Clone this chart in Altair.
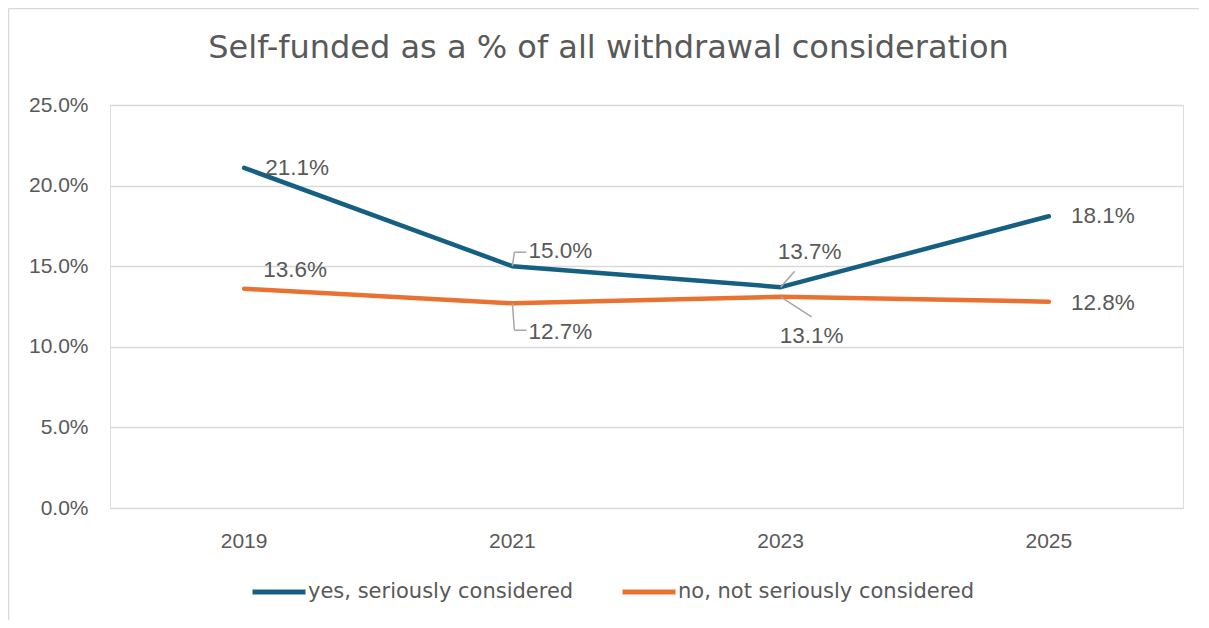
import altair as alt
import pandas as pd

years = ["2019", "2021", "2023", "2025"]
yes_vals = [21.1, 15.0, 13.7, 18.1]
no_vals = [13.6, 12.7, 13.1, 12.8]
series_names = ["yes, seriously considered", "no, not seriously considered"]
series_colors = ["#156082", "#E97132"]
y_ticks = [0.0, 0.05, 0.10, 0.15, 0.20, 0.25]
title_text = "Self-funded as a % of all withdrawal consideration"

rows = []
for s, vals in zip(series_names, [yes_vals, no_vals]):
    for yr, v in zip(years, vals):
        rows.append({"year": yr, "value": v / 100.0, "series": s})
df = pd.DataFrame(rows)

TXT = "#595959"
GRID = "#D9D9D9"
LEAD = "#A6A6A6"
FONT = "Liberation Sans"
WIDE_FONT = "DejaVu Sans"

W, H = 1073, 403
PL, PT, PR, PB = 102, 97, 16, 112

x_enc = alt.X("year:O", sort=years, title=None,
              axis=alt.Axis(labelAngle=0, domain=False, ticks=False, labelPadding=22,
                            labelFontSize=21, labelColor=TXT, labelFont=FONT))
y_enc = alt.Y("value:Q", title=None,
              scale=alt.Scale(domain=[0, 0.25], nice=False),
              axis=alt.Axis(values=y_ticks, format=".1%", domain=False, ticks=False,
                            labelPadding=22, labelFontSize=21, labelColor=TXT, labelFont=FONT,
                            gridColor=GRID, gridWidth=1.5))

base = alt.Chart(df)

lines = base.mark_line(strokeWidth=4.5, strokeCap="round", strokeJoin="round").encode(
    x=x_enc, y=y_enc,
    color=alt.Color("series:N", sort=series_names,
                    scale=alt.Scale(domain=series_names, range=series_colors),
                    legend=alt.Legend(orient="none", legendX=140, legendY=458,
                                      direction="horizontal", title=None,
                                      symbolType="stroke", symbolSize=2809,
                                      symbolStrokeWidth=5, labelFontSize=21,
                                      labelColor=TXT, labelFont=WIDE_FONT, labelLimit=500,
                                      columnPadding=38, labelOffset=0)),
    detail="series:N",
)

# label offsets (pixels) per (series index, year)
label_offsets = {
    (0, "2019"): (21, 0), (1, "2019"): (19, -19),
    (0, "2021"): (16, -15), (1, "2021"): (16, 29),
    (0, "2023"): (-3, -35), (1, "2023"): (-1, 39),
    (0, "2025"): (22, 0), (1, "2025"): (22, 1),
}

layers = [lines]
for (si, yr), (dx, dy) in label_offsets.items():
    s = series_names[si]
    layers.append(
        base.transform_filter((alt.datum.series == s) & (alt.datum.year == yr))
        .mark_text(align="left", baseline="middle", dx=dx, dy=dy, fontSize=22.5,
                   color=TXT, font=FONT)
        .encode(x=alt.X("year:O", sort=years), y=alt.Y("value:Q"),
                text=alt.Text("value:Q", format=".1%"))
    )

# leader lines: (series index, year, start offset, end offset)
leaders = [
    (0, "2021", (0, 0), (2, -14)), (0, "2021", (2, -14), (14, -14)),
    (1, "2021", (0, 0), (2, 27)), (1, "2021", (2, 27), (14, 27)),
    (0, "2023", (0, 0), (14, -16)),
    (1, "2023", (0, 0), (31, 20)),
]
for si, yr, (x1, y1), (x2, y2) in leaders:
    s = series_names[si]
    layers.append(
        base.transform_filter((alt.datum.series == s) & (alt.datum.year == yr))
        .mark_rule(color=LEAD, strokeWidth=1.5, xOffset=x1, yOffset=y1,
                   x2Offset=x2, y2Offset=y2)
        .encode(x=alt.X("year:O", sort=years), y=alt.Y("value:Q"),
                x2="year:O", y2="value:Q")
    )

# outer chart frame (top and left edges)
frame_df = pd.DataFrame({"k": [0]})
frame_top = alt.Chart(frame_df).mark_rule(color=GRID, strokeWidth=1.5).encode(
    x=alt.value(-PL + 0.5), x2=alt.value(W + PR), y=alt.value(-PT + 0.5))
frame_left = alt.Chart(frame_df).mark_rule(color=GRID, strokeWidth=1.5).encode(
    x=alt.value(-PL + 0.5), y=alt.value(-PT + 0.5), y2=alt.value(H + PB))
layers += [frame_top, frame_left]

chart = alt.layer(*layers).properties(
    width=W, height=H,
    autosize=alt.AutoSizeParams(type="none"),
    padding={"left": PL, "top": PT, "right": PR, "bottom": PB},
    title=alt.Title(title_text, fontSize=32, font=WIDE_FONT, color=TXT, fontWeight="normal",
                    anchor="middle", baseline="alphabetic", offset=-82, dx=-38),
).configure_view(stroke=None).configure(background="white")

chart.save("out.html", embed_options={"renderer": "svg", "actions": False})
